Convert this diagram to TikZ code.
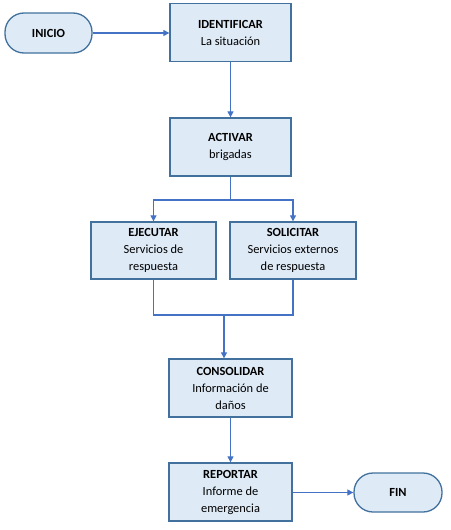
\documentclass[tikz,border=0pt]{standalone}
\usepackage{fontspec}
\setmainfont{Carlito}
\usetikzlibrary{arrows.meta,calc}
\definecolor{boxfill}{HTML}{DEEAF6}
\definecolor{boxline}{HTML}{41719C}
\definecolor{flow}{HTML}{4472C4}
\begin{document}
\begin{tikzpicture}[x=1pt,y=-1pt,
  font=\fontsize{12.4}{17}\selectfont,
  stepbox/.style={draw=boxline, fill=boxfill, line width=1.3pt, align=center,
    inner sep=2pt, minimum width=#1, minimum height=58pt},
  stepbox/.default=121pt,
  terminal/.style={draw=boxline, fill=boxfill, line width=1.3pt, rounded corners=19pt,
    minimum width=87pt, minimum height=40pt, font=\fontsize{12.4}{17}\selectfont\bfseries},
  flowline/.style={draw=flow, line width=1.1pt},
  flowarrow/.style={flowline, -{Triangle[length=6pt,width=6pt]}}]
\useasboundingbox (0,0) rectangle (450,530);

\node[terminal] (inicio) at (48.5,33) {INICIO};
\node[stepbox] (ident) at (230.5,32.5) {\textbf{IDENTIFICAR}\\La situación};
\node[stepbox] (activar) at (230.5,147) {\textbf{ACTIVAR}\\brigadas};
\node[stepbox=125pt, minimum height=57pt] (ejec) at (153.5,250.5) {\textbf{EJECUTAR}\\Servicios de\\respuesta};
\node[stepbox=126pt, minimum height=57pt] (solic) at (293,250.5) {\textbf{SOLICITAR}\\Servicios externos\\de respuesta};
\node[stepbox=123pt] (consol) at (230.5,388) {\textbf{CONSOLIDAR}\\Información de\\daños};
\node[stepbox=123pt] (report) at (230.5,492) {\textbf{REPORTAR}\\Informe de\\emergencia};
\node[terminal, minimum width=88pt, minimum height=39pt] (fin) at (398,492.5) {FIN};

\coordinate (split) at (230.5,200);
\coordinate (merge) at (224,315);

\draw[flowarrow] (inicio.east) -- (ident.west |- inicio.east);
\draw[flowarrow] (ident.south) -- (activar.north);
\draw[flowline] (activar.south) -- (split);
\draw[flowarrow] (split) -| (ejec.north);
\draw[flowarrow] (split) -| (solic.north);
\draw[flowline] (ejec.south) |- (merge);
\draw[flowline] (solic.south) |- (merge);
\draw[flowarrow] (merge) -- (merge |- consol.north);
\draw[flowarrow] (consol.south) -- (report.north);
\draw[flowarrow] (report.east |- fin.west) -- (fin.west);
\end{tikzpicture}
\end{document}
